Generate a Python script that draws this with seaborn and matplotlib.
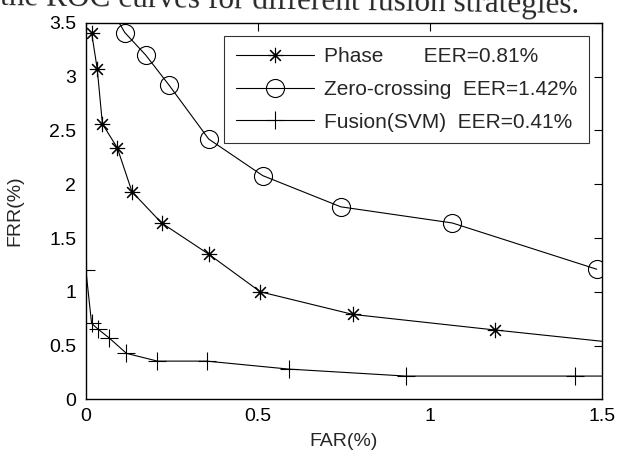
"""
ROC curves (FAR vs FRR) for the phase, zero-crossing and SVM fusion matchers.
"""

import matplotlib
matplotlib.use('Agg')
import matplotlib.pyplot as plt
import seaborn as sns

# Phase feature
phase_far = [0.0165, 0.033, 0.048, 0.091, 0.134, 0.22, 0.357, 0.507, 0.776, 1.19, 1.62]
phase_frr = [3.41, 3.07, 2.56, 2.34, 1.93, 1.64, 1.35, 1.00, 0.79, 0.645, 0.50]

# Zero-crossing feature
zc_far = [0.075, 0.113, 0.174, 0.242, 0.357, 0.514, 0.741, 1.065, 1.485]
zc_frr = [3.62, 3.41, 3.20, 2.92, 2.42, 2.08, 1.79, 1.64, 1.21]

# Fusion (SVM)
svm_far = [0.0, 0.0165, 0.036, 0.067, 0.118, 0.208, 0.351, 0.589, 0.930, 1.422, 1.62]
svm_frr = [1.20, 0.707, 0.651, 0.573, 0.428, 0.356, 0.356, 0.282, 0.217, 0.217, 0.217]

labels = ['Phase       EER=0.81%',
          'Zero-crossing  EER=1.42%',
          'Fusion(SVM)  EER=0.41%']

sns.set_style('white')
plt.rcParams['font.family'] = ['Liberation Sans', 'DejaVu Sans']
plt.rcParams['font.size'] = 14

fig = plt.figure(figsize=(6.18, 4.57), dpi=100)
ax = fig.add_axes([0.139, 0.126, 0.835, 0.824])

common = dict(ax=ax, color='k', linewidth=0.8, sort=False, estimator=None,
              markeredgecolor='k', markeredgewidth=0.8)
sns.lineplot(x=phase_far, y=phase_frr, marker=(8, 2, 0), markersize=11, label=labels[0], **common)
sns.lineplot(x=zc_far, y=zc_frr, marker='o', markersize=13, markerfacecolor='none', label=labels[1], **common)
sns.lineplot(x=svm_far, y=svm_frr, marker='+', markersize=13, label=labels[2], **common)

ax.set_xlim(0, 1.5)
ax.set_ylim(0, 3.5)
ax.set_xticks([0, 0.5, 1, 1.5])
ax.set_xticklabels(['0', '0.5', '1', '1.5'])
ax.set_yticks([0, 0.5, 1, 1.5, 2, 2.5, 3, 3.5])
ax.set_yticklabels(['0', '0.5', '1', '1.5', '2', '2.5', '3', '3.5'])
ax.tick_params(direction='in', length=6, width=0.8, top=True, right=True,
               labelsize=14, colors='k')
ax.tick_params(axis='x', pad=6)
ax.tick_params(axis='y', pad=7)
for s in ax.spines.values():
    s.set_color('k')
    s.set_linewidth(1.0)

ax.set_xlabel('FAR(%)', fontsize=14)
ax.set_ylabel('FRR(%)', fontsize=14)
ax.xaxis.set_label_coords(0.5, -0.088)
ax.yaxis.set_label_coords(-0.122, 0.5)

leg = ax.legend(loc='upper right', bbox_to_anchor=(0.975, 0.965), fontsize=15,
                frameon=True, fancybox=False, edgecolor='k', handlelength=3.75,
                borderpad=0.55, labelspacing=0.65, handletextpad=0.5, borderaxespad=0)
leg.get_frame().set_linewidth(0.8)

# caption fragment cut off at the top of the screenshot (slightly tilted scan)
fig.text(0.0, 1 - 5 / 457, 'the ROC curves for different fusion strategies.',
         family=['Liberation Serif', 'DejaVu Serif'], fontsize=22.5,
         va='baseline', ha='left', rotation=-0.8, rotation_mode='anchor')

fig.savefig('out.png', dpi=100)
